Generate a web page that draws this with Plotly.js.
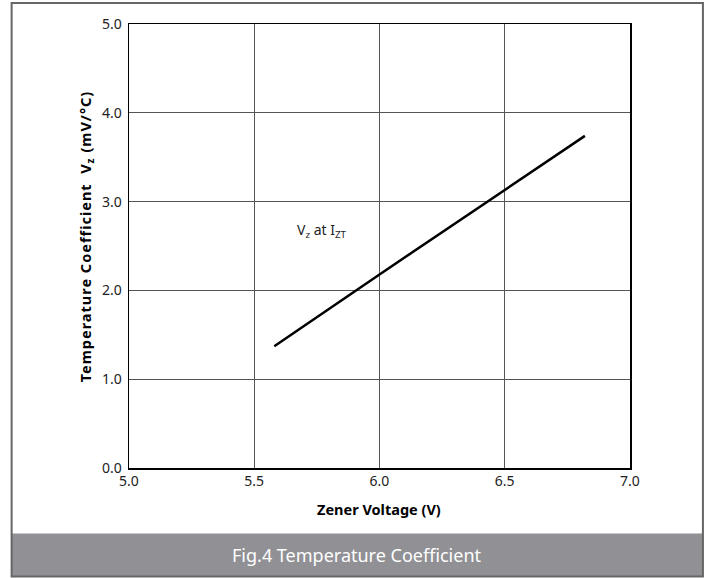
<!DOCTYPE html>
<html>
<head>
<meta charset="utf-8">
<script src="https://cdn.plot.ly/plotly-3.0.1.min.js"></script>
<style>html,body{margin:0;padding:0;background:#fff;}#chart{width:712px;height:578px;}</style>
</head>
<body>
<div id="chart"></div>
<script>
// Data
const zenerVoltage = [5.58, 6.0, 6.82];
const tempCoeff = [1.37, 2.18, 3.74];
const xTicks = [5.0, 5.5, 6.0, 6.5, 7.0];
const yTicks = [0.0, 1.0, 2.0, 3.0, 4.0, 5.0];

const W = 712, H = 578;
const L = 128.5, R = 630, T = 24, B = 468.5;
const px = v => (v - L) / (R - L);
const py = v => (B - v) / (B - T);

const font = "'Noto Sans', 'Open Sans', sans-serif";

const trace = {
  x: zenerVoltage, y: tempCoeff, mode: 'lines', type: 'scatter',
  line: {color: '#000', width: 2.5}, hoverinfo: 'skip', showlegend: false
};

const layout = {
  width: W, height: H,
  margin: {l: L, r: W - R, t: T, b: H - B, pad: 0},
  paper_bgcolor: '#fff', plot_bgcolor: '#fff',
  font: {family: font, size: 14, color: '#222'},
  xaxis: {
    range: [5.0, 7.0], tickvals: xTicks, ticktext: xTicks.map(v => v.toFixed(1)),
    showgrid: true, gridcolor: '#555', gridwidth: 1,
    showline: true, linecolor: '#000', linewidth: 1.5, mirror: true,
    ticks: '', zeroline: false, fixedrange: true,
    tickfont: {family: font, size: 14, color: '#222'}
  },
  yaxis: {
    range: [0, 5.0], tickvals: yTicks, ticktext: yTicks.map(v => v.toFixed(1)),
    showgrid: true, gridcolor: '#555', gridwidth: 1,
    showline: true, linecolor: '#000', linewidth: 1.5, mirror: true,
    ticks: '', zeroline: false, fixedrange: true, ticklabelstandoff: 3,
    tickfont: {family: font, size: 14, color: '#222'}
  },
  shapes: [
    {type: 'rect', xref: 'paper', yref: 'paper', x0: px(11), x1: px(703), y0: py(534), y1: py(577),
     fillcolor: '#909095', line: {width: 0}, layer: 'below'},
    {type: 'rect', xref: 'paper', yref: 'paper', x0: px(11), x1: px(703), y0: py(3), y1: py(577),
     fillcolor: 'rgba(0,0,0,0)', line: {color: '#666', width: 2}}
  ],
  annotations: [
    {xref: 'x', yref: 'y', x: 5.77, y: 2.68, showarrow: false, xanchor: 'center', yanchor: 'middle',
     text: 'V<sub>z</sub> at I<sub>ZT</sub>', font: {family: font, size: 14, color: '#222'}},
    {xref: 'paper', yref: 'paper', x: px(379), y: py(510), showarrow: false, xanchor: 'center', yanchor: 'middle',
     text: '<b>Zener Voltage (V)</b>', font: {family: font, size: 14.5, color: '#000'}},
    {xref: 'paper', yref: 'paper', x: px(85), y: py(237), showarrow: false, xanchor: 'center', yanchor: 'middle',
     textangle: -90,
     text: '<span style="letter-spacing:1px"><b>Temperature Coefficient  V<sub>z</sub> (mV/°C)</b></span>',
     font: {family: font, size: 14.5, color: '#000'}},
    {xref: 'paper', yref: 'paper', x: px(357), y: py(556), showarrow: false, xanchor: 'center', yanchor: 'middle',
     text: 'Fig.4 Temperature Coefficient', font: {family: font, size: 18, color: '#fff'}}
  ]
};

Plotly.newPlot('chart', [trace], layout, {displayModeBar: false, staticPlot: true});
</script>
</body>
</html>
